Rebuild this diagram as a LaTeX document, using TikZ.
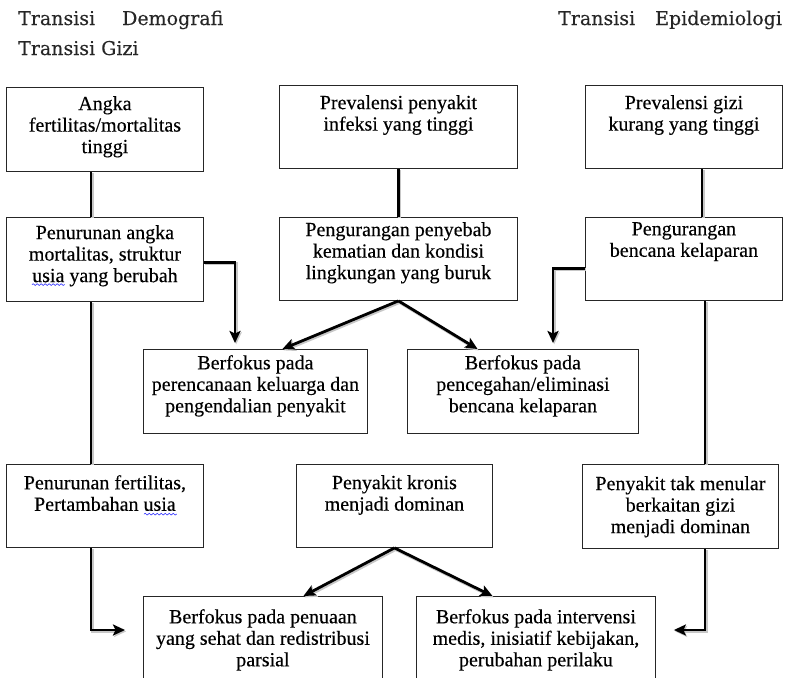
\documentclass[tikz,border=0pt]{standalone}
\usepackage{fontspec}
\setmainfont{Liberation Serif}[FakeBold=0.3]
\newfontfamily\hdrfont{DejaVu Serif}[FakeBold=0.2]
\usetikzlibrary{arrows.meta,calc,decorations.pathmorphing}

% framed box with top-aligned centred text
% #1 name, #2 x, #3 y (top left), #4 width, #5 height, #6 text offset, #7 text
\newcommand\flowbox[7]{%
  \node[frame, minimum width=#4pt, minimum height=#5pt, anchor=north west] (#1) at (#2,#3) {};
  \node[txt, anchor=north] (#1t) at ($(#1.north)+(0,#6)$) {#7};}

\begin{document}
\begin{tikzpicture}[x=1pt,y=-1pt,
  frame/.style={draw=black!85, line width=0.9pt, inner sep=0pt},
  txt/.style={inner sep=0pt, align=center, font=\fontsize{20}{21.5}\selectfont, text=black},
  hdr/.style={inner sep=0pt, anchor=base west, font=\hdrfont\fontsize{19}{22}\selectfont, text=black!85},
  link/.style={line width=2.8pt, line cap=butt,
    preaction={draw=black!22, line width=3.2pt, transform canvas={shift={(1.2pt,-1.4pt)}}}},
  arr/.style={link, -{Stealth[length=12pt,width=11pt,inset=2.5pt]}},
  squiggle/.style={draw=blue!80, line width=0.6pt, decorate,
    decoration={snake, amplitude=0.9pt, segment length=4pt}}
]
\useasboundingbox (0,0) rectangle (796,678);

% headings
\node[hdr] (hdem) at (18,25) {Transisi\hspace{27pt}Demografi};
\node[hdr] (hgiz) at (18,55) {Transisi Gizi};
\node[hdr] (hepi) at (558,25) {Transisi\hspace{20pt}Epidemiologi};

% first stage
\flowbox{A1}{6}{87}{197}{84}{9}{Angka\\fertilitas/mortalitas\\tinggi}
\flowbox{A2}{6}{217}{197}{84}{8}{Penurunan angka\\mortalitas, struktur\\usia yang berubah}
\flowbox{B1}{279}{85}{238}{83}{10}{Prevalensi penyakit\\infeksi yang tinggi}
\flowbox{B2}{279}{217}{238}{83}{5}{Pengurangan penyebab\\kematian dan kondisi\\lingkungan yang buruk}
\flowbox{C1}{585}{85}{197}{83}{10}{Prevalensi gizi\\kurang yang tinggi}
\flowbox{C2}{585}{217}{197}{83}{5}{Pengurangan\\bencana kelaparan}
\flowbox{D1}{143}{349}{224}{84}{6}{Berfokus pada\\perencanaan keluarga dan\\pengendalian penyakit}
\flowbox{D2}{407}{349}{231}{84}{6}{Berfokus pada\\pencegahan/eliminasi\\bencana kelaparan}

% second stage
\flowbox{E1}{6}{464}{197}{83}{11}{Penurunan fertilitas,\\Pertambahan usia}
\flowbox{F1}{296}{464}{196}{83}{11}{Penyakit kronis\\menjadi dominan}
\flowbox{H1}{582}{464}{196}{84}{12}{Penyakit tak menular\\berkaitan gizi\\menjadi dominan}
\flowbox{G1}{143}{596}{239}{100}{13}{Berfokus pada penuaan\\yang sehat dan redistribusi\\parsial}
\flowbox{G2}{416}{596}{239}{100}{13}{Berfokus pada intervensi\\medis, inisiatif kebijakan,\\perubahan perilaku}

% spell-check marks under "usia"
\draw[squiggle] ($(A2t.south)+(-73,-2)$) -- ($(A2t.south)+(-40,-2)$);
\draw[squiggle] ($(E1t.south)+(39,3)$) -- ($(E1t.south)+(72,3)$);

% connector guide points
\coordinate (colA) at (91,0);
\coordinate (colAr) at (235,0);
\coordinate (colC) at (702,0);
\coordinate (colCl) at (553,0);
\coordinate (colH) at (705,0);
\coordinate (rowG) at (0,630);
\coordinate (d1in) at ($(D1.north -| colAr)+(0,-6)$);
\coordinate (d2in) at ($(D2.north -| colCl)+(0,-6)$);
\coordinate (g1in) at ($(rowG -| G1.west)+(-18,0)$);
\coordinate (g2in) at ($(rowG -| G2.east)+(18,0)$);

% demographic column
\draw[link] (A1.south -| colA) -- (A2.north -| colA);
\draw[link] (A2.south -| colA) -- (E1.north -| colA);
\draw[arr] ($(A2.east)+(0,3)$) -| (d1in);
\draw[arr] (E1.south -| colA) |- (g1in);

% epidemiological column
\draw[link] (B1.south) -- (B2.north);
\draw[arr] (B2.south) -- ($(D1.north)+(27,0)$);
\draw[arr] (B2.south) -- ($(D2.north)+(-45.5,0)$);
\draw[arr] (F1.south) -- ($(G1.north)+(40.5,0)$);
\draw[arr] (F1.south) -- ($(G2.north)+(-43.5,0)$);

% nutrition column
\draw[link] (C1.south -| colC) -- (C2.north -| colC);
\draw[arr] ($(C2.west)+(0,9.5)$) -| (d2in);
\draw[link] (C2.south -| colH) -- (H1.north -| colH);
\draw[arr] (H1.south -| colH) |- (g2in);
\end{tikzpicture}
\end{document}
